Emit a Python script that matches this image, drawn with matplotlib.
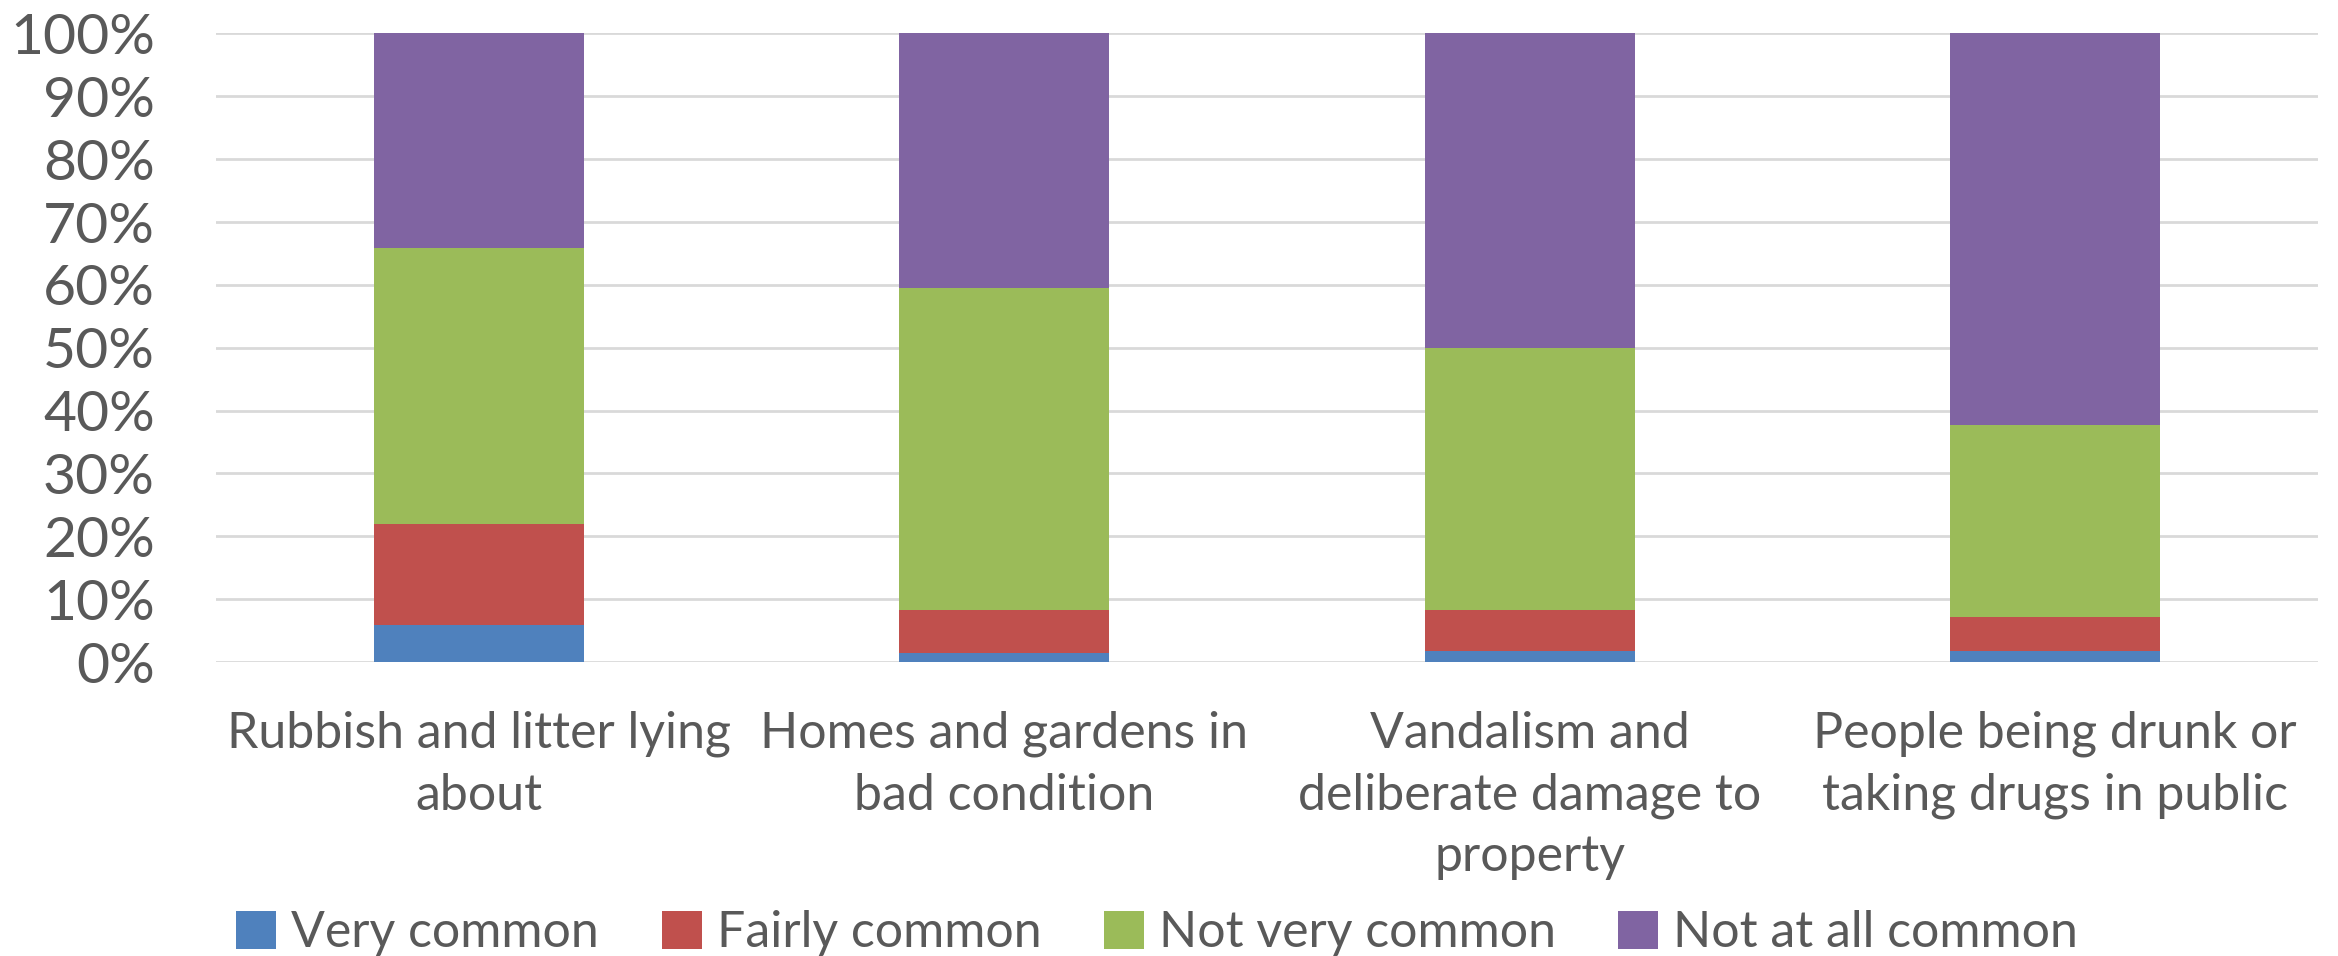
import matplotlib.pyplot as plt
import numpy as np

categories = [
    "Rubbish and litter lying\nabout",
    "Homes and gardens in\nbad condition",
    "Vandalism and\ndeliberate damage to\nproperty",
    "People being drunk or\ntaking drugs in public",
]
series_names = ["Very common", "Fairly common", "Not very common", "Not at all common"]
very_common = [5.9, 1.5, 1.7, 1.8]
fairly_common = [16.1, 6.8, 6.6, 5.4]
not_very_common = [43.8, 51.2, 41.7, 30.5]
not_at_all_common = [34.2, 40.5, 50.0, 62.3]
colors = ["#4F81BD", "#C0504D", "#9BBB59", "#8064A2"]

plt.rcParams['font.family'] = ['Lato', 'DejaVu Sans']
text_color = "#595959"

fig = plt.figure(figsize=(23.38, 9.56), dpi=100)
ax = fig.add_axes([0.0924, 0.3075, 0.899, 0.6575])

x = np.arange(len(categories))
bottom = np.zeros(len(categories))
for name, vals, c in zip(series_names,
                         [very_common, fairly_common, not_very_common, not_at_all_common],
                         colors):
    vals = np.array(vals)
    ax.bar(x, vals, 0.4, bottom=bottom, color=c, label=name, zorder=3)
    bottom += vals

ax.set_xlim(-0.5, len(categories) - 0.5)
ax.set_ylim(0, 100)
ax.set_yticks(np.arange(0, 101, 10))
ax.set_yticklabels([f"{v}%" for v in range(0, 101, 10)])
ax.set_xticks(x)
ax.set_xticklabels(categories, linespacing=1.42)
ax.grid(axis='y', color="#d9d9d9", linewidth=2, zorder=0)
for s in ax.spines.values():
    s.set_visible(False)
ax.tick_params(axis='y', length=0, pad=44, labelsize=41, labelcolor=text_color)
ax.tick_params(axis='x', length=0, pad=35, labelsize=36, labelcolor=text_color)

fig.legend(loc='center', bbox_to_anchor=(0.495, 0.024), ncol=4, frameon=False,
           fontsize=36, labelcolor=text_color, handlelength=0.8, handleheight=0.8,
           handletextpad=0.3, columnspacing=1.25)

fig.savefig("out.png", dpi=100)
